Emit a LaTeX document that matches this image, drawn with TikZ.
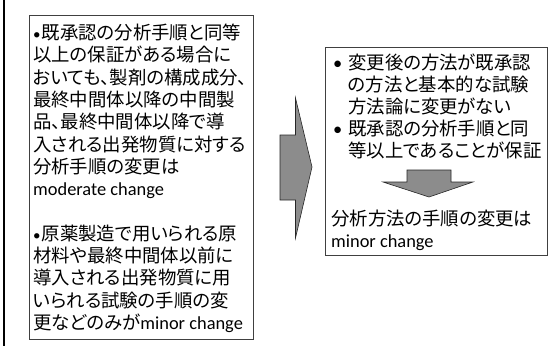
\documentclass[tikz,border=0pt]{standalone}
\usepackage{fontspec}
\setmainfont{Carlito}
\newfontfamily\cjk[RawFeature=+palt]{Noto Sans CJK JP}
\newcommand\blt{\makebox[8.5pt][l]{\fontsize{15}{15}\selectfont •}}
\newcommand\rblt{\makebox[15pt][l]{•}}
\newcommand\rind{\hspace*{15pt}}
\begin{document}
\begin{tikzpicture}[x=1pt,y=-1pt,
  box/.style={draw=black!75, line width=0.8pt, inner sep=0pt},
  blockarrow/.style={fill=black!45, draw=black!85, line width=0.6pt, line join=miter},
  txt/.style={anchor=base west, inner sep=0pt, font=\fontsize{18.4}{22.3}\selectfont},
  rtxt/.style={anchor=base west, inner sep=0pt, font=\fontsize{18.4}{22}\selectfont}]
\useasboundingbox (0,0) rectangle (560,346);
% left margin rule
\coordinate (rtop) at (4.3,0);
\coordinate (rbot) at (4.3,346);
\draw[line width=2.2pt] (rtop) -- (rbot);
% left box
\node[box, anchor=north west, minimum width=224pt, minimum height=324pt] (lbox) at (29,15) {};
\node[txt] (ltext) at (33,39.5) {\parbox[t]{218pt}{%
\blt{\cjk 既承認の分析手順と同等}\\
{\cjk 以上の保証がある場合に}\\
{\cjk おいても、製剤の構成成分、}\\
{\cjk 最終中間体以降の中間製}\\
{\cjk 品、最終中間体以降で導}\\
{\cjk 入される出発物質に対する}\\
{\cjk 分析手順の変更は}\\
moderate change\\[22.3pt]
\blt{\cjk 原薬製造で用いられる原}\\
{\cjk 材料や最終中間体以前に}\\
{\cjk 導入される出発物質に用}\\
{\cjk いられる試験の手順の変}\\
{\cjk 更などのみが}minor change}};
% big arrow
\draw[blockarrow] (280,135) -- (295.5,135) -- (295.5,98) -- (312,167) -- (295.5,238) -- (295.5,200) -- (280,200) -- cycle;
% right box
\node[box, anchor=north west, minimum width=222pt, minimum height=208pt] (rbox) at (325,47) {};
\node[rtxt] (rtext) at (333,69) {\parbox[t]{214pt}{%
\rblt{\cjk 変更後の方法が既承認}\\
\rind{\cjk の方法と基本的な試験}\\
\rind{\cjk 方法論に変更がない}\\
\rblt{\cjk 既承認の分析手順と同}\\
\rind{\cjk 等以上であることが保証}}};
% small arrow
\draw[blockarrow] (407,170) -- (451,170) -- (451,182) -- (473,182) -- (429,197) -- (383,182) -- (407,182) -- cycle;
\node[rtxt] (rres) at (331,225) {\parbox[t]{214pt}{%
{\cjk 分析方法の手順の変更は}\\
minor change}};
\end{tikzpicture}
\end{document}
